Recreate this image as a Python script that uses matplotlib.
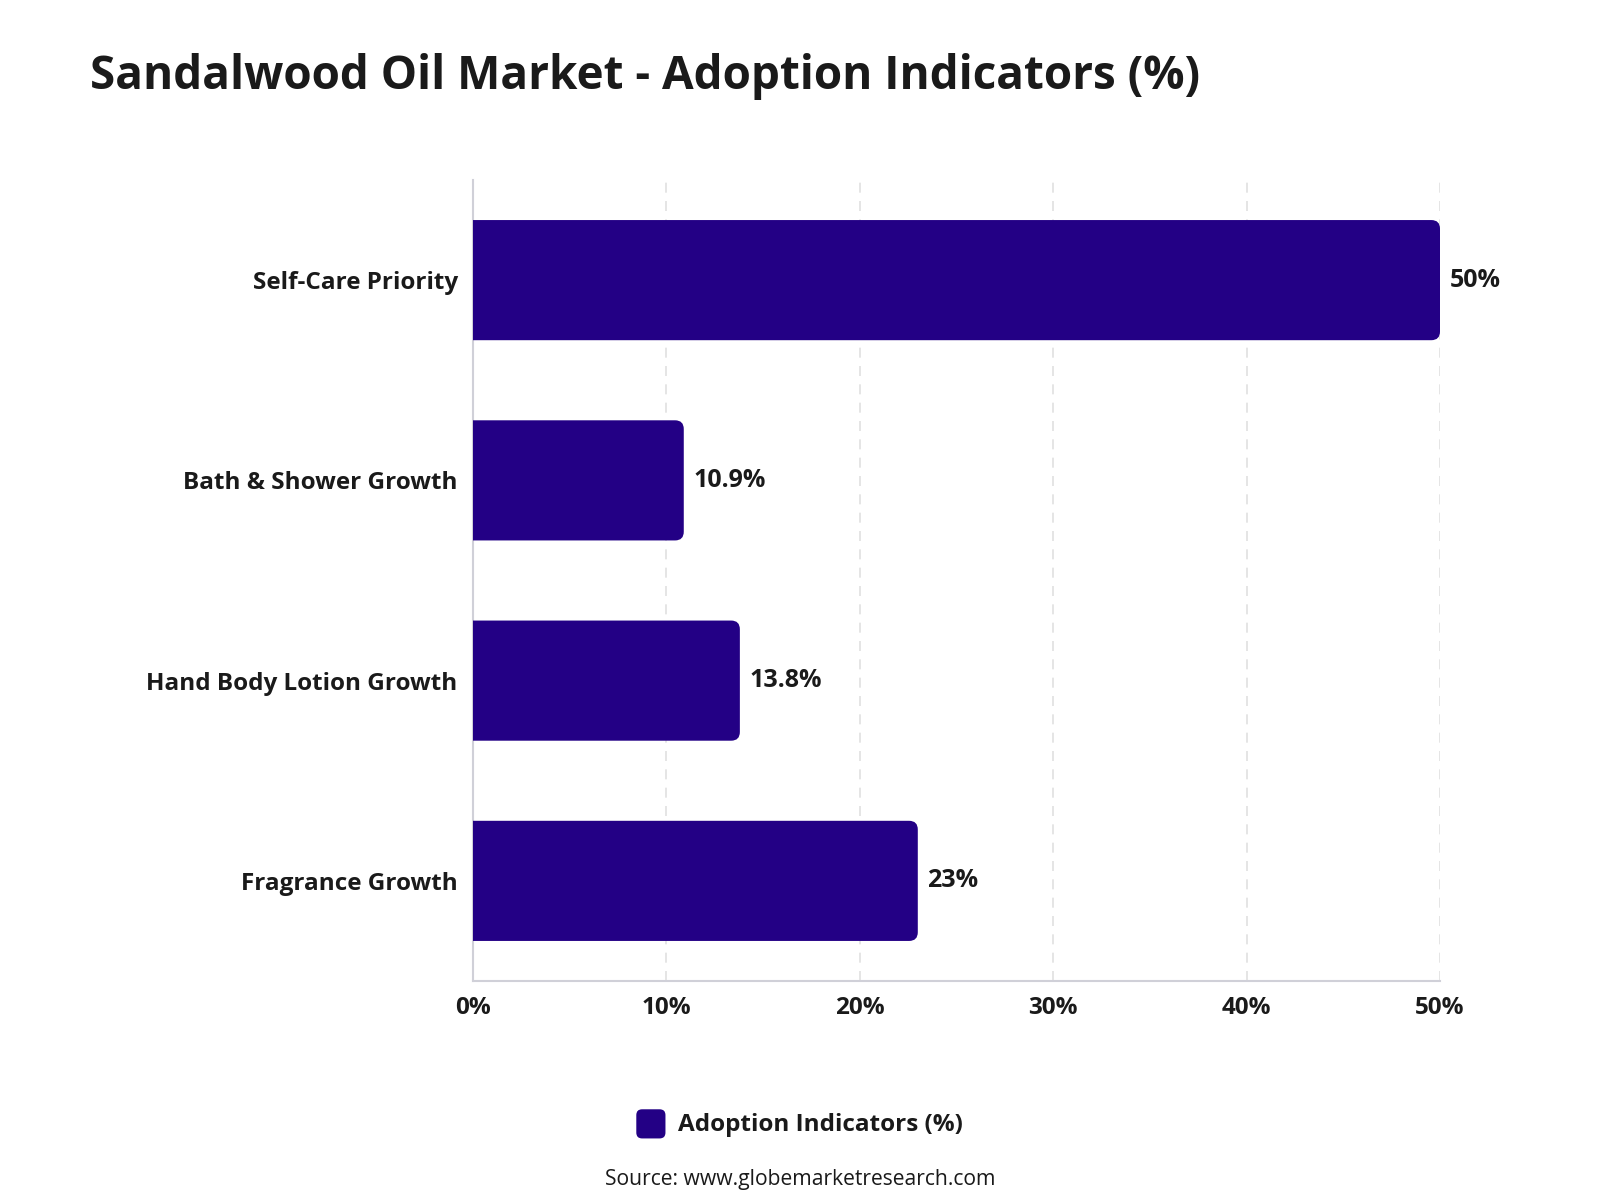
import matplotlib.pyplot as plt
from matplotlib.patches import FancyBboxPatch, Rectangle
from matplotlib.legend_handler import HandlerPatch

plt.rcParams['font.family'] = ['Open Sans', 'DejaVu Sans']

categories = ['Self-Care Priority', 'Bath & Shower Growth', 'Hand Body Lotion Growth', 'Fragrance Growth']
values = [50, 10.9, 13.8, 23]
labels = ['50%', '10.9%', '13.8%', '23%']
ticks = [0, 10, 20, 30, 40, 50]
series_name = 'Adoption Indicators (%)'
color = '#230085'


class RoundHandler(HandlerPatch):
    def create_artists(self, legend, orig, xd, yd, w, h, fs, trans):
        s = min(w, h) * 1.25
        p = FancyBboxPatch((xd + (w - s) / 2, yd + (h - s) / 2 - s * 0.28), s, s,
                           boxstyle='round,pad=0,rounding_size=%f' % (s * 0.2),
                           fc=color, ec='none', transform=trans)
        return [p]


fig = plt.figure(figsize=(16, 12), dpi=100)
ax = fig.add_axes([0.2956, 0.1825, 0.6044, 0.6675])

y = list(range(len(categories)))
bars = ax.barh(y, values, height=0.6, color=color, label=series_name, zorder=3)

# swap plain bars for ones with rounded right corners
asp = (4 / 800) / (50 / 967)
for b in bars:
    x0, y0 = b.get_x(), b.get_y()
    w, h = b.get_width(), b.get_height()
    p = FancyBboxPatch((x0 - 1, y0), w + 1, h,
                       boxstyle='round,pad=0,rounding_size=0.45',
                       mutation_aspect=asp, fc=color, ec='none', zorder=3)
    ax.add_patch(p)
    b.set_visible(False)

for yi, v, t in zip(y, values, labels):
    ax.text(v + 0.5, yi, t, va='center', ha='left', fontsize=18, fontweight='bold', color='#1a1a1a')

ax.set_xlim(0, 50)
ax.set_ylim(len(categories) - 0.5, -0.5)
ax.set_yticks(y)
ax.set_yticklabels(categories, fontsize=17.5, fontweight='bold', color='#1a1a1a')
ax.set_xticks(ticks)
ax.set_xticklabels([f'{t}%' for t in ticks], fontsize=17.5, fontweight='bold', color='#1a1a1a')
ax.tick_params(axis='y', length=0, pad=11)
ax.tick_params(axis='x', length=0, pad=11)

ax.grid(axis='x', linestyle=(0, (6, 5)), color='#e0e0e0', linewidth=1.2, zorder=0)
for s in ['top', 'right']:
    ax.spines[s].set_visible(False)
for s in ['left', 'bottom']:
    ax.spines[s].set_color('#d0d0d8')
    ax.spines[s].set_linewidth(1.5)

fig.text(0.0565, 0.9365, 'Sandalwood Oil Market - Adoption Indicators (%)', fontsize=33,
         fontweight='bold', color='#1a1a1a', va='center', ha='left')

handle = Rectangle((0, 0), 1, 1, fc=color)
leg = fig.legend([handle], [series_name], loc='center', bbox_to_anchor=(0.5, 0.0635),
                 frameon=False, handlelength=1.1, handleheight=1.1, handletextpad=0.55,
                 prop={'size': 17.5, 'weight': 'bold'},
                 handler_map={Rectangle: RoundHandler()})
for t in leg.get_texts():
    t.set_color('#1a1a1a')

fig.text(0.5, 0.0175, 'Source: www.globemarketresearch.com', fontsize=15.2, color='#1a1a1a',
         ha='center', va='center')

fig.savefig('out.png', dpi=100, facecolor='white')
